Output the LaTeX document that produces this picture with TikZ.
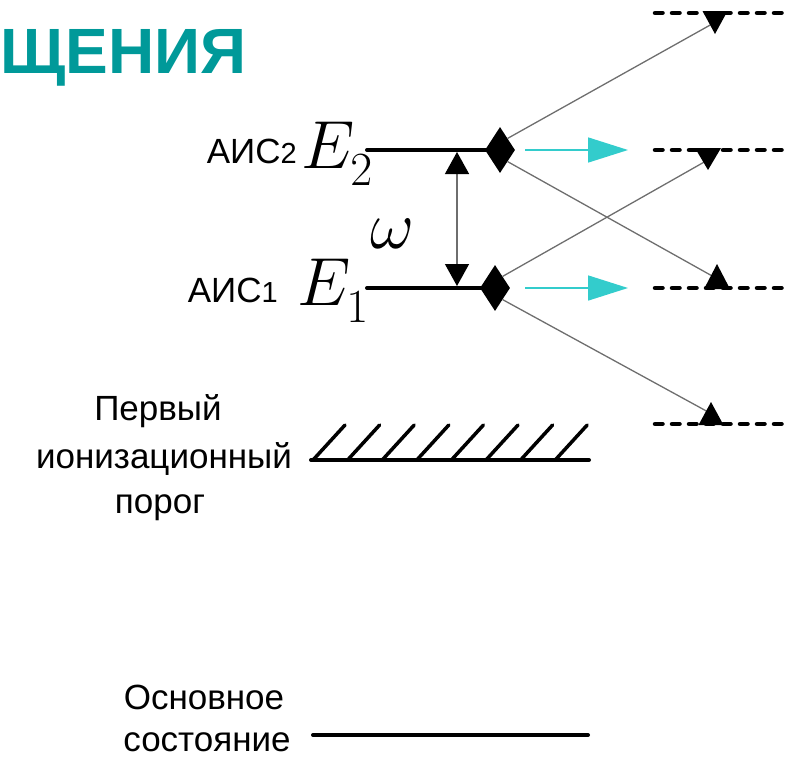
\RequirePackage{fix-cm}
\documentclass[tikz,border=0pt]{standalone}
\usepackage{fontspec}
\setmainfont{Liberation Sans}
\usetikzlibrary{arrows.meta,shapes.geometric,calc}
\definecolor{titleteal}{RGB}{0,153,153}
\definecolor{arrowcyan}{RGB}{51,204,204}
\definecolor{thingray}{RGB}{110,110,110}
\newcommand{\lowsub}[1]{_{\lower7pt\hbox{$\scriptstyle #1$}}}
\begin{document}
\begin{tikzpicture}[x=1pt,y=-1pt,
  levelline/.style={line width=4pt,line cap=round},
  thinline/.style={draw=thingray,line width=1.3pt},
  dashlevel/.style={line width=4.5pt,line cap=round,dash pattern=on 7.5pt off 9.5pt},
  cyanarrow/.style={draw=arrowcyan,line width=1.6pt,-{Triangle[width=25pt,length=40pt]}},
  kite/.style={diamond,fill=black,minimum width=30pt,minimum height=46pt,inner sep=0pt},
  txt/.style={inner sep=0pt,font=\fontsize{35}{35}\selectfont},
  mathlab/.style={inner sep=0pt,font=\fontsize{68}{68}\selectfont},
]
\useasboundingbox (0,0) rectangle (799,758);

% title
\node[inner sep=0pt,anchor=base west,text=titleteal,font=\fontsize{64}{64}\selectfont\bfseries] (title) at (0,73) {ЩЕНИЯ};

% levels
\coordinate (e2L) at (367,150); \coordinate (e2R) at (492,150);
\coordinate (e1L) at (367,288); \coordinate (e1R) at (488,288);
\draw[levelline] (e2L) -- (e2R);
\draw[levelline] (e1L) -- (e1R);

% labels
\node[txt,anchor=base east] (aic2) at (297,163) {АИС{\fontsize{29}{29}\selectfont 2}};
\node[mathlab,anchor=base west] (E2) at (301,168) {$E\lowsub{2}$};
\node[txt,anchor=base east] (aic1) at (278,302) {АИС{\fontsize{29}{29}\selectfont 1}};
\node[mathlab,anchor=base west] (E1) at (297,305) {$E\lowsub{1}$};
\node[mathlab,anchor=base] (om) at (392,248) {$\omega$};

% vertical double arrow
\coordinate (vt) at (457,152); \coordinate (vb) at (457,286);
\draw[thinline,{Triangle[width=24pt,length=22pt,color=black]}-{Triangle[width=24pt,length=22pt,color=black]}] (vt) -- (vb);

% right dashed levels
\coordinate (r0L) at (655,13);  \coordinate (r0R) at (785,13);
\coordinate (r1L) at (655,150); \coordinate (r1R) at (785,150);
\coordinate (r2L) at (655,288); \coordinate (r2R) at (785,288);
\coordinate (r3L) at (655,424); \coordinate (r3R) at (785,424);
\draw[dashlevel] (r0L) -- (r0R);
\draw[dashlevel] (r1L) -- (r1R);
\draw[dashlevel] (r2L) -- (r2R);
\draw[dashlevel] (r3L) -- (r3R);

% diamonds
\node[kite] (d2) at (500,150) {};
\node[kite] (d1) at (495,288) {};

% thin decay lines
\coordinate (a0) at (712,24);
\coordinate (a1) at (706,161);
\coordinate (a2) at (714,277);
\coordinate (a3) at (710,413);
\draw[thinline] (d2.north east) -- (a0);
\draw[thinline] (d2.south east) -- (a2);
\draw[thinline] (d1.north east) -- (a1);
\draw[thinline] (d1.south east) -- (a3);

% triangles on dashed levels
\coordinate (t0) at (715,34);
\coordinate (t1) at (708,170);
\coordinate (t2) at (717,264);
\coordinate (t3) at (711,402);
\fill (t0) -- ++(-12.5,-23) -- ++(25,0) -- cycle;
\fill (t1) -- ++(-13,-22) -- ++(26,0) -- cycle;
\fill (t2) -- ++(-13,25) -- ++(26,0) -- cycle;
\fill (t3) -- ++(-12.5,23) -- ++(25,0) -- cycle;

% cyan arrows
\coordinate (c2s) at (525,150); \coordinate (c2e) at (628,150);
\coordinate (c1s) at (525,288); \coordinate (c1e) at (628,288);
\draw[cyanarrow] (c2s) -- (c2e);
\draw[cyanarrow] (c1s) -- (c1e);

% ionization threshold
\coordinate (thL) at (311,460); \coordinate (thR) at (589,460);
\draw[levelline] (thL) -- (thR);
\foreach \k in {0,...,7}{
  \draw[line width=3.5pt,line cap=round] ($(313,460)+(34.6*\k,0)$) -- ++(32,-35);
}
\node[txt,anchor=base] (p1) at (158,420) {Первый};
\node[txt,anchor=base] (p2) at (164,468) {ионизационный};
\node[txt,anchor=base] (p3) at (160,513) {порог};

% ground state
\coordinate (gL) at (313,735); \coordinate (gR) at (588,735);
\draw[levelline] (gL) -- (gR);
\node[txt,anchor=base] (g1) at (204,709) {Основное};
\node[txt,anchor=base] (g2) at (207,751) {состояние};
\end{tikzpicture}
\end{document}
